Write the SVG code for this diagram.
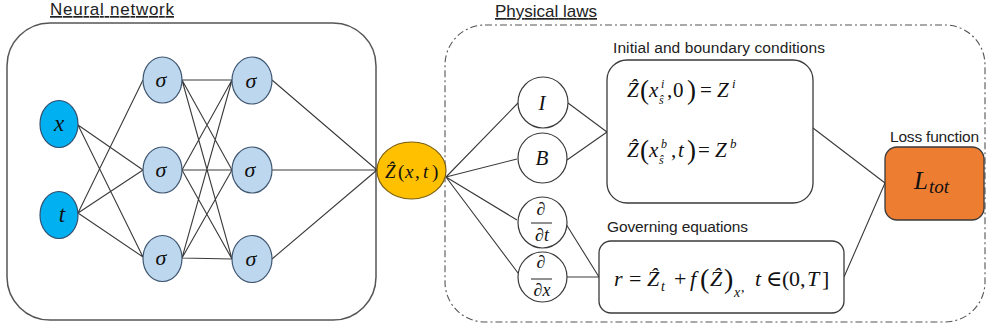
<svg xmlns="http://www.w3.org/2000/svg" width="986" height="330" viewBox="0 0 986 330">
<style>
.lbl{font-family:"Liberation Sans","Open Sans",sans-serif;fill:#222;font-size:15.5px}
.ttl{font-family:"Liberation Sans","Open Sans",sans-serif;fill:#222;font-size:17px;text-decoration:underline}
.m{font-family:"Liberation Serif","DejaVu Serif",serif;font-style:italic;fill:#111}
.u{font-style:normal}
.edge{stroke:#3a3a3a;stroke-width:1.1;fill:none}
.inp{fill:#00B0F0;stroke:#2F4F6F;stroke-width:1.2}
.hid{fill:#BDD7EE;stroke:#3F5670;stroke-width:1.2}
.out{fill:#FFC000;stroke:#7A5E10;stroke-width:1.2}
.pn{fill:#fff;stroke:#3a3a3a;stroke-width:1.2}
.box{fill:#fff;stroke:#3a3a3a;stroke-width:1.3}
</style>

<g id="nn-frame">
<rect x="7" y="23" width="369" height="297" rx="43" fill="none" stroke="#555" stroke-width="1.5"/>
<text class="ttl" x="50" y="15" textLength="124">Neural network</text>
</g>
<g id="pl-frame">
<rect x="445" y="25" width="540" height="297" rx="40" fill="none" stroke="#555" stroke-width="1.1" stroke-dasharray="7 3 2 3"/>
<text class="ttl" x="495" y="17" textLength="102">Physical laws</text>
</g>

<g id="connectors">
<path class="edge" d="M78 125L143 170M78 125L143 257M78 213L143 80M78 213L143 170M78 213L143 257"/>
<path class="edge" d="M182 80L232 80M182 80L232 170M182 80L232 259M182 170L232 80M182 170L232 170M182 170L232 259M182 258L232 80M182 258L232 170M182 258L232 259"/>
<path class="edge" d="M272 80L377 170M272 170L377 170M272 259L377 170"/>
<path class="edge" d="M446 177L518 103M446 177L517 159M446 177L517 220M446 177L518 273"/>
<path class="edge" d="M568 103L607 132M567 160L607 132"/>
<path class="edge" d="M566 224L599 277M567 277L599 277"/>
<path class="edge" d="M813 128L885 183M844 277L885 183"/>
</g>

<g id="in-x"><ellipse class="inp" cx="59" cy="124" rx="19" ry="23.5"/><text class="m" x="59" y="131" font-size="23" text-anchor="middle">x</text></g>
<g id="in-t"><ellipse class="inp" cx="59" cy="215" rx="19" ry="23.5"/><text class="m" x="62" y="222" font-size="23" text-anchor="middle">t</text></g>

<g id="h1-1"><ellipse class="hid" cx="162.5" cy="80" rx="19.5" ry="23"/><text class="m" x="161" y="87" font-size="22" text-anchor="middle">σ</text></g>
<g id="h1-2"><ellipse class="hid" cx="162.5" cy="170" rx="19.5" ry="23"/><text class="m" x="161" y="177" font-size="22" text-anchor="middle">σ</text></g>
<g id="h1-3"><ellipse class="hid" cx="162.5" cy="258.5" rx="19.5" ry="23"/><text class="m" x="161" y="265" font-size="22" text-anchor="middle">σ</text></g>
<g id="h2-1"><ellipse class="hid" cx="252" cy="80.5" rx="20" ry="23.5"/><text class="m" x="251" y="88" font-size="22" text-anchor="middle">σ</text></g>
<g id="h2-2"><ellipse class="hid" cx="252" cy="170" rx="20" ry="23"/><text class="m" x="250" y="177" font-size="22" text-anchor="middle">σ</text></g>
<g id="h2-3"><ellipse class="hid" cx="252" cy="259" rx="20" ry="23.5"/><text class="m" x="251" y="266" font-size="22" text-anchor="middle">σ</text></g>

<g id="out"><ellipse class="out" cx="411.5" cy="170.5" rx="34.5" ry="28.5"/>
<text class="m" font-size="19"><tspan x="385" y="178">Ẑ</tspan><tspan x="398" y="178" class="u">(</tspan><tspan x="405" y="178">x</tspan><tspan x="415" y="178" class="u">,</tspan><tspan x="423" y="178">t</tspan><tspan x="432" y="178" class="u">)</tspan></text>
</g>

<g id="n-I"><ellipse class="pn" cx="543" cy="102.5" rx="25" ry="25.5"/><text class="m" x="542" y="110" font-size="21" text-anchor="middle">I</text></g>
<g id="n-B"><ellipse class="pn" cx="542.5" cy="158" rx="24.5" ry="25"/><text class="m" x="542" y="165" font-size="21" text-anchor="middle">B</text></g>
<g id="n-dt"><ellipse class="pn" cx="542.5" cy="222.5" rx="24.5" ry="25.5"/>
<text class="m" x="541" y="215" font-size="18" text-anchor="middle">∂</text>
<line x1="531" y1="223" x2="552" y2="223" stroke="#222" stroke-width="1"/>
<text class="m" x="542" y="241" font-size="18" text-anchor="middle">∂t</text></g>
<g id="n-dx"><ellipse class="pn" cx="542.5" cy="277" rx="24.5" ry="25"/>
<text class="m" x="541" y="268" font-size="18" text-anchor="middle">∂</text>
<line x1="531" y1="279" x2="552" y2="279" stroke="#222" stroke-width="1"/>
<text class="m" x="542" y="296" font-size="18" text-anchor="middle">∂x</text></g>

<g id="ic">
<text class="lbl" x="613" y="53" textLength="212">Initial and boundary conditions</text>
<rect class="box" x="607" y="60" width="206" height="143" rx="20"/>
<text class="m" font-size="21"><tspan x="627" y="97">Ẑ</tspan><tspan x="640" y="99" font-size="27" class="u">(</tspan><tspan x="649" y="97">x</tspan><tspan x="661" y="88" font-size="12">i</tspan><tspan x="659" y="104" font-size="12">ŝ</tspan><tspan x="667" y="97" class="u">,</tspan><tspan x="673" y="97" class="u">0</tspan><tspan x="687" y="99" font-size="27" class="u">)</tspan><tspan x="700" y="97" class="u">=</tspan><tspan x="717" y="97">Z</tspan><tspan x="732" y="88" font-size="13">i</tspan></text>
<text class="m" font-size="21"><tspan x="627" y="157">Ẑ</tspan><tspan x="640" y="159" font-size="27" class="u">(</tspan><tspan x="649" y="157">x</tspan><tspan x="661" y="148" font-size="12">b</tspan><tspan x="659" y="164" font-size="12">ŝ</tspan><tspan x="671" y="157" class="u">,</tspan><tspan x="678" y="157">t</tspan><tspan x="687" y="159" font-size="27" class="u">)</tspan><tspan x="698" y="157" class="u">=</tspan><tspan x="715" y="157">Z</tspan><tspan x="730" y="148" font-size="13">b</tspan></text>
</g>

<g id="ge">
<text class="lbl" x="607" y="232" textLength="141">Governing equations</text>
<rect class="box" x="599" y="241" width="245" height="72" rx="12"/>
<text class="m" font-size="22"><tspan x="614" y="286">r</tspan><tspan x="629" y="286" class="u">=</tspan><tspan x="647" y="286">Ẑ</tspan><tspan x="661" y="291" font-size="14">t</tspan><tspan x="674" y="286" class="u">+</tspan><tspan x="690" y="286">f</tspan><tspan x="700" y="288" font-size="28" class="u">(</tspan><tspan x="710" y="286">Ẑ</tspan><tspan x="724" y="288" font-size="28" class="u">)</tspan><tspan x="734" y="297" font-size="14">x</tspan><tspan x="741" y="292" font-size="14" class="u">,</tspan><tspan x="755" y="286">t</tspan><tspan x="766" y="286" class="u">∈</tspan><tspan x="782" y="286" class="u">(</tspan><tspan x="789" y="286" class="u">0</tspan><tspan x="800" y="286" class="u">,</tspan><tspan x="807" y="286">T</tspan><tspan x="822" y="286" class="u">]</tspan></text>
</g>

<g id="loss">
<text class="lbl" x="890" y="142" textLength="89">Loss function</text>
<rect x="885" y="147" width="99" height="73" rx="12" fill="#ED7D31" stroke="#3a3a3a" stroke-width="1.3"/>
<text class="m" font-size="25"><tspan x="914" y="189">L</tspan><tspan x="929" y="193" font-size="19">tot</tspan></text>
</g>
</svg>
